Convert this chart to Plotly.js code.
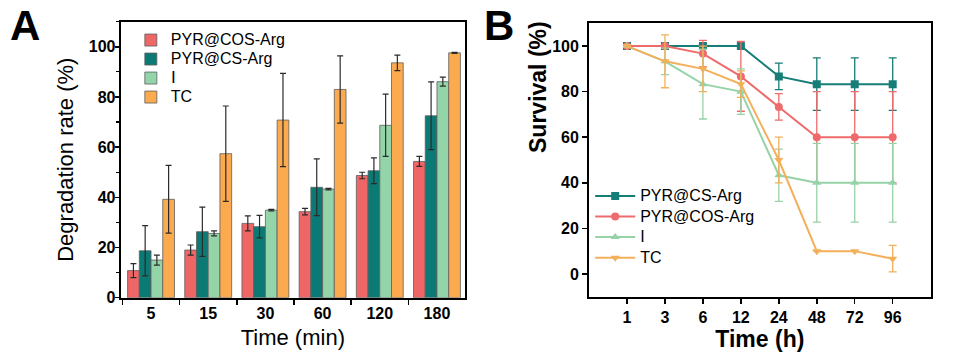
<!DOCTYPE html>
<html>
<head>
<meta charset="utf-8">
<script src="https://cdn.plot.ly/plotly-3.0.1.min.js"></script>
<style>html,body{margin:0;padding:0;background:#fff;}#chart{width:955px;height:360px;}</style>
</head>
<body>
<div id="chart"></div>
<script>
// ---- Panel A: degradation rate ----
var timesMin = ['5', '15', '30', '60', '120', '180'];
var seriesA = ['PYR@COS-Arg', 'PYR@CS-Arg', 'Ⅰ', 'TC'];
var degCOS = [10.8, 19.0, 29.6, 34.3, 48.7, 54.3];
var degCOSerr = [2.8, 2.0, 3.0, 1.3, 1.3, 2.0];
var degCS = [18.7, 26.3, 28.3, 44.0, 50.6, 72.5];
var degCSerr = [10.0, 9.8, 4.5, 11.3, 5.1, 13.5];
var degI = [15.0, 25.6, 34.9, 43.3, 68.7, 86.1];
var degIerr = [2.0, 1.0, 0.3, 0.3, 12.4, 1.8];
var degTC = [39.2, 57.4, 70.8, 83.0, 93.6, 97.6];
var degTCerr = [13.5, 19.0, 18.6, 13.4, 3.1, 0.2];

// ---- Panel B: survival ----
var timesH = ['1', '3', '6', '12', '24', '48', '72', '96'];
var seriesB = ['PYR@CS-Arg', 'PYR@COS-Arg', 'I', 'TC'];
var survCS = [100, 100, 100, 100, 86.7, 83.3, 83.3, 83.3];
var survCSerr = [0, 0, 0, 0, 5.8, 11.5, 11.5, 11.5];
var survCOS = [100, 100, 96.7, 86.7, 73.3, 60, 60, 60];
var survCOSerr = [0, 0, 5.8, 15.3, 5.8, 20, 20, 20];
var survI = [100, 93.3, 83.3, 80, 43.3, 40, 40, 40];
var survIerr = [0, 5.8, 15.3, 10, 11.5, 17.3, 17.3, 17.3];
var survTC = [100, 93.3, 90, 83.3, 50, 10, 10, 6.7];
var survTCerr = [0, 11.6, 10, 5.8, 10, 0, 0, 5.8];

var FONT = 'Arial, "Liberation Sans", sans-serif';
var colA = ['#EF6667', '#0B7A74', '#93D4A8', '#FBAA50'];
var colB = ['#167D77', '#EF6B6B', '#96D3A6', '#F4AF5A'];

function legendName(s) { return '<span style="font-size:16px">' + s + '</span>'; }

var valsA = [degCOS, degCS, degI, degTC];
var errsA = [degCOSerr, degCSerr, degIerr, degTCerr];
var traces = [];
for (var i = 0; i < 4; i++) {
  traces.push({
    type: 'bar', x: timesMin, y: valsA[i], name: legendName(seriesA[i]),
    xaxis: 'x', yaxis: 'y', legend: 'legend',
    marker: {color: colA[i], line: {color: '#5e5e5e', width: 0.8}},
    error_y: {type: 'data', array: errsA[i], visible: true, color: '#2b2b2b', thickness: 1.2, width: 3}
  });
}
var valsB = [survCS, survCOS, survI, survTC];
var errsB = [survCSerr, survCOSerr, survIerr, survTCerr];
var symB = ['square', 'circle', 'triangle-up', 'triangle-down'];
for (var j = 0; j < 4; j++) {
  traces.push({
    type: 'scatter', mode: 'lines+markers', x: timesH, y: valsB[j], name: legendName(seriesB[j]),
    xaxis: 'x2', yaxis: 'y2', legend: 'legend2',
    line: {color: colB[j], width: 2},
    marker: {color: colB[j], symbol: symB[j], size: 8},
    error_y: {type: 'data', array: errsB[j], visible: true, color: colB[j], thickness: 1.3, width: 4}
  });
}

var axCommon = {
  showline: true, linecolor: '#000', linewidth: 2, mirror: true,
  ticks: 'outside', ticklen: 5, tickwidth: 1.5, tickcolor: '#000',
  showgrid: false, zeroline: false, automargin: false,
  tickfont: {family: FONT, size: 16, color: '#000', weight: 'bold'}
};
function ax(o) { var r = {}; for (var k in axCommon) r[k] = axCommon[k]; for (var k2 in o) r[k2] = o[k2]; return r; }

var layout = {
  width: 955, height: 360,
  margin: {l: 0, r: 0, t: 0, b: 0},
  paper_bgcolor: '#fff', plot_bgcolor: '#fff',
  font: {family: FONT, color: '#000'},
  barmode: 'group', bargap: 0.18, bargroupgap: 0,
  xaxis: ax({domain: [0.1264, 0.4869], anchor: 'y', type: 'category', range: [-0.53, 5.49],
    tickson: 'boundaries',
    title: {text: 'Time (min)', font: {family: FONT, size: 22, color: '#000'}, standoff: 9}}),
  yaxis: ax({domain: [0.1731, 0.9397], anchor: 'x', range: [0, 110], dtick: 20, tick0: 0, ticklen: 4,
    ticklabelstandoff: -4,
    minor: {dtick: 10, ticks: 'outside', ticklen: 3, tickwidth: 1.2, tickcolor: '#000'},
    title: {text: 'Degradation rate (%)', font: {family: FONT, size: 22, color: '#000'}, standoff: 9}}),
  xaxis2: ax({domain: [0.6168, 0.9745], anchor: 'y2', type: 'category', range: [-1, 8],
    title: {text: 'Time (h)', font: {family: FONT, size: 23, color: '#000', weight: 'bold'}, standoff: 4}}),
  yaxis2: ax({domain: [0.1758, 0.9353], anchor: 'x2', range: [-10, 110], dtick: 20, tick0: 0}),
  legend: {x: 0.137, y: 0.929, xanchor: 'left', yanchor: 'top', bgcolor: 'rgba(0,0,0,0)',
    font: {family: FONT, size: 12, color: '#000'}, tracegroupgap: 0, itemwidth: 30},
  legend2: {x: 0.618, y: 0.498, xanchor: 'left', yanchor: 'top', bgcolor: 'rgba(0,0,0,0)',
    font: {family: FONT, size: 13.5, color: '#000'}, tracegroupgap: 0, itemwidth: 40},
  annotations: [
    {text: '<b>A</b>', xref: 'paper', yref: 'paper', x: 0.008, y: 1.0, xanchor: 'left', yanchor: 'top',
      showarrow: false, font: {family: FONT, size: 42, color: '#000'}},
    {text: '<b>B</b>', xref: 'paper', yref: 'paper', x: 0.505, y: 1.0, xanchor: 'left', yanchor: 'top',
      showarrow: false, font: {family: FONT, size: 42, color: '#000'}},
    {text: '<b>Survival (%)</b>', xref: 'paper', yref: 'paper', x: 538 / 955, y: 1 - 87 / 360,
      xanchor: 'center', yanchor: 'middle', textangle: -90, showarrow: false,
      font: {family: FONT, size: 23, color: '#000'}}
  ]
};

Plotly.newPlot('chart', traces, layout, {displayModeBar: false, staticPlot: true});
</script>
</body>
</html>
